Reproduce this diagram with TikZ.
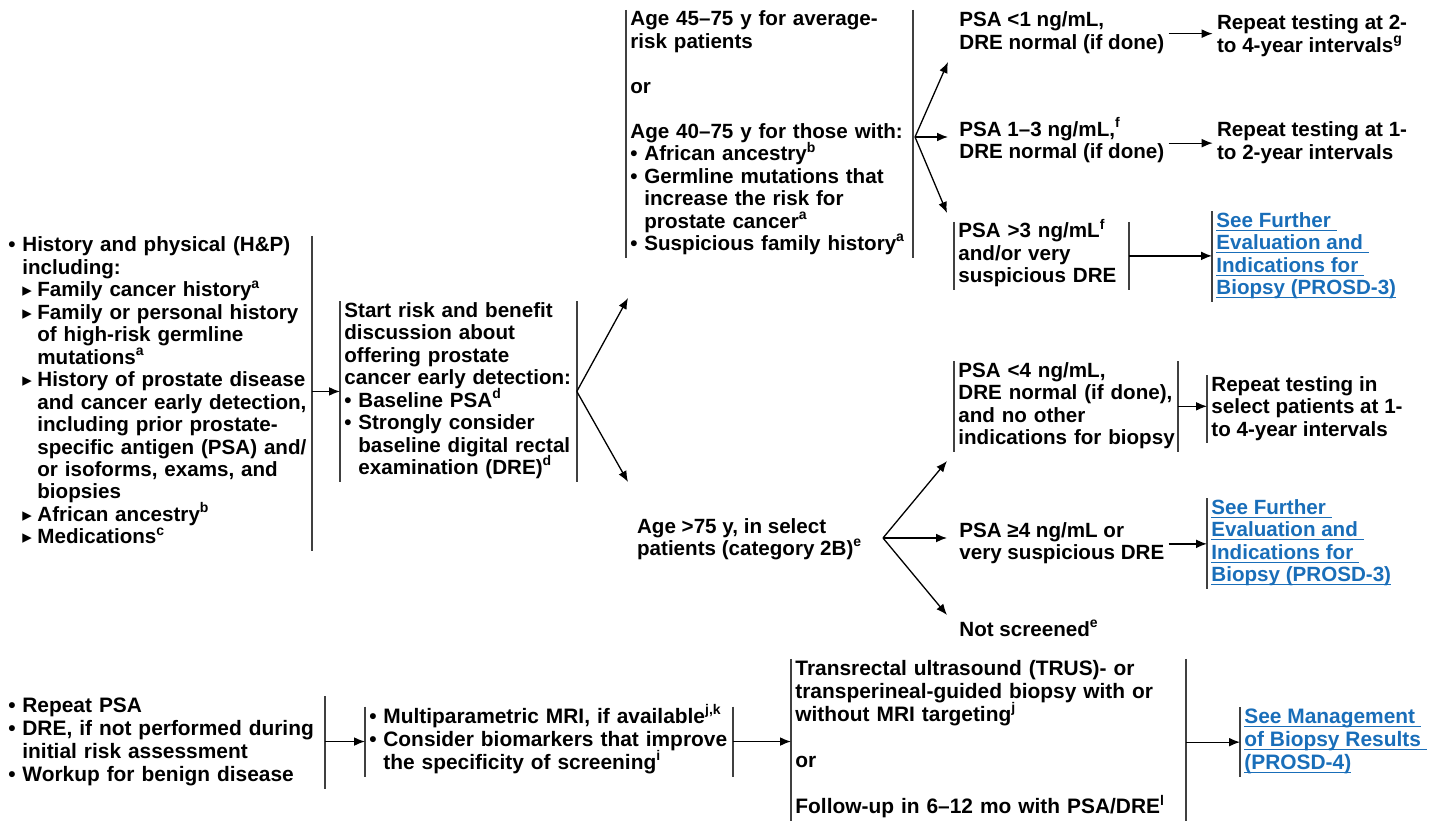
\documentclass[tikz,border=0pt]{standalone}
\usepackage{fontspec}
\setmainfont{Liberation Sans}
\newfontfamily\trifont{DejaVu Sans}
\usetikzlibrary{arrows.meta}

\definecolor{linkblue}{RGB}{25,110,185}

\newsavebox{\lnkbox}
\newcommand{\fn}[1]{\smash{\raisebox{0.42em}{\fontsize{7}{7}\selectfont #1}}}
\newcommand{\bult}{\makebox[7pt][l]{•}}
\newcommand{\indt}{\hspace*{7pt}}
\newcommand{\indtt}{\hspace*{14.5pt}}
\newcommand{\tri}{\makebox[7.5pt][l]{\trifont\fontsize{9.5}{9.5}\selectfont ▸}}
\newcommand{\txtrows}[1]{\begin{tabular}{@{}l@{}}#1\end{tabular}}
\newcommand{\lnk}[1]{\sbox{\lnkbox}{\color{linkblue}#1}{\color{linkblue}\rlap{\rule[-1.6pt]{\wd\lnkbox}{0.5pt}}\usebox{\lnkbox}}}

\begin{document}
\begin{tikzpicture}[x=0.5pt,y=-0.5pt,
    txt/.style={anchor=north west, inner xsep=2pt, inner ysep=0pt,
      font=\fontsize{10.3}{11.23}\selectfont\bfseries},
    btxt/.style={txt, font=\fontsize{10.45}{11.55}\selectfont\bfseries},
    bar/.style={draw=black!75, line width=0.7pt},
    arr/.style={draw=black, line width=0.65pt, -{Latex[length=5.5pt,width=4.4pt]}}]
\useasboundingbox (0,0) rectangle (1440,824);

% initial assessment
\node[txt, text width=149.5pt] (hp) at (4,235.8) {\txtrows{%
  \bult History and physical (H\&P)\\
  \indt including:\\
  \indt\tri Family cancer history\fn{a}\\
  \indt\tri Family or personal history\\
  \indtt of high-risk germline\\
  \indtt mutations\fn{a}\\
  \indt\tri History of prostate disease\\
  \indtt and cancer early detection,\\
  \indtt including prior prostate-\\
  \indtt specific antigen (PSA) and/\\
  \indtt or isoforms, exams, and\\
  \indtt biopsies\\
  \indt\tri African ancestry\fn{b}\\
  \indt\tri Medications\fn{c}}};

\node[txt, text width=114pt] (disc) at (340,301.2) {\txtrows{%
  Start risk and benefit\\
  discussion about\\
  offering prostate\\
  cancer early detection:\\
  \bult Baseline PSA\fn{d}\\
  \bult Strongly consider\\
  \indt baseline digital rectal\\
  \indt examination (DRE)\fn{d}}};

% age groups
\node[txt, text width=139pt] (agehi) at (626,9.8) {\txtrows{%
  Age 45--75 y for average-\\
  risk patients\\
  \\
  or\\
  \\
  Age 40--75 y for those with:\\
  \bult African ancestry\fn{b}\\
  \bult Germline mutations that\\
  \indt increase the risk for\\
  \indt prostate cancer\fn{a}\\
  \bult Suspicious family history\fn{a}}};

\node[txt] (agelo) at (632.7,517) {\txtrows{%
  Age >75 y, in select\\
  patients (category 2B)\fn{e}}};

% results, average and high risk
\node[txt] (psa1) at (955,10.8) {\txtrows{%
  PSA <1 ng/mL,\\
  DRE normal (if done)}};
\node[txt] (rep24) at (1212.7,13.8) {\txtrows{%
  Repeat testing at 2-\\
  to 4-year intervals\fn{g}}};

\node[txt] (psa13) at (955,120.3) {\txtrows{%
  PSA 1--3 ng/mL,\fn{f}\\
  DRE normal (if done)}};
\node[txt] (rep12) at (1212.7,120.8) {\txtrows{%
  Repeat testing at 1-\\
  to 2-year intervals}};

\node[txt, text width=83pt] (psa3) at (954,221.8) {\txtrows{%
  PSA >3 ng/mL\fn{f}\\
  and/or very\\
  suspicious DRE}};
\node[txt] (fe1) at (1212,211.3) {\txtrows{%
  \lnk{See Further\ }\\
  \lnk{Evaluation and\ }\\
  \lnk{Indications for\ }\\
  \lnk{Biopsy (PROSD-3)}}};

% results, older patients
\node[txt, text width=107.5pt] (psa4) at (954,361) {\txtrows{%
  PSA <4 ng/mL,\\
  DRE normal (if done),\\
  and no other\\
  indications for biopsy}};
\node[txt] (rep14) at (1207,375) {\txtrows{%
  Repeat testing in\\
  select patients at 1-\\
  to 4-year intervals}};

\node[txt] (psa4b) at (955,521) {\txtrows{%
  PSA ≥4 ng/mL or\\
  very suspicious DRE}};
\node[txt] (fe2) at (1207,498.3) {\txtrows{%
  \lnk{See Further\ }\\
  \lnk{Evaluation and\ }\\
  \lnk{Indications for\ }\\
  \lnk{Biopsy (PROSD-3)}}};

\node[txt] (nos) at (955,620.3) {\txtrows{Not screened\fn{e}}};

% further evaluation row
\node[btxt, text width=156pt] (wk) at (4,696.1) {\txtrows{%
  \bult Repeat PSA\\
  \bult DRE, if not performed during\\
  \indt initial risk assessment\\
  \bult Workup for benign disease}};

\node[btxt, text width=179.5pt] (mri) at (365,706.5) {\txtrows{%
  \bult Multiparametric MRI, if available\fn{j,k}\\
  \bult Consider biomarkers that improve\\
  \indt the specificity of screening\fn{i}}};

\node[btxt, text width=193pt] (bx) at (791,658.8) {\txtrows{%
  Transrectal ultrasound (TRUS)- or\\
  transperineal-guided biopsy with or\\
  without MRI targeting\fn{j}\\
  \\
  or\\
  \\
  Follow-up in 6--12 mo with PSA/DRE\fn{l}}};

\node[btxt] (fe3) at (1240,707.1) {\txtrows{%
  \lnk{See Management\ }\\
  \lnk{of Biopsy Results\ }\\
  \lnk{(PROSD-4)}}};

% bars
\draw[bar] (hp.north east) -- (hp.south east);
\draw[bar] (disc.north west) -- (disc.south west) (disc.north east) -- (disc.south east);
\draw[bar] (agehi.north west) -- (agehi.south west) (agehi.north east) -- (agehi.south east);
\draw[bar] (psa3.north west) -- (psa3.south west) (psa3.north east) -- (psa3.south east);
\draw[bar] (fe1.north west) -- (fe1.south west);
\draw[bar] (psa4.north west) -- (psa4.south west) (psa4.north east) -- (psa4.south east);
\draw[bar] (rep14.north west) -- (rep14.south west);
\draw[bar] (fe2.north west) -- (fe2.south west);
\draw[bar] (wk.north east) -- (wk.south east);
\draw[bar] (mri.north west) -- (mri.south west) (mri.north east) -- (mri.south east);
\draw[bar] (bx.north west) -- (bx.south west) (bx.north east) -- (bx.south east);
\draw[bar] (fe3.north west) -- (fe3.south west);

% branch points and arrow ends
\coordinate (up) at (628,298);
\coordinate (dn) at (628,482);
\coordinate (br1) at (915,137);
\coordinate (t1) at (948,62);
\coordinate (t2) at (948,137);
\coordinate (t3) at (947,213);
\coordinate (br2) at (883,538);
\coordinate (t4) at (947,461);
\coordinate (t5) at (947,538);
\coordinate (t6) at (947,615);

\draw[arr] (hp.east |- disc.west) -- (disc.west);
\draw[arr] (disc.east) -- (up);
\draw[arr] (disc.east) -- (dn);
\draw[arr] (br1) -- (t1);
\draw[arr] (br1) -- (t2);
\draw[arr] (br1) -- (t3);
\draw[arr] (psa1.east) -- (psa1.east -| rep24.west);
\draw[arr] (psa13.east) -- (psa13.east -| rep12.west);
\draw[arr] (psa3.east) -- (psa3.east -| fe1.west);
\draw[arr] (br2) -- (t4);
\draw[arr] (br2) -- (t5);
\draw[arr] (br2) -- (t6);
\draw[arr] (psa4.east) -- (psa4.east -| rep14.west);
\draw[arr] (psa4b.east) -- (psa4b.east -| fe2.west);
\draw[arr] (wk.east |- mri.west) -- (mri.west);
\draw[arr] (mri.east) -- (mri.east -| bx.west);
\draw[arr] (bx.east |- fe3.west) -- (fe3.west);
\end{tikzpicture}
\end{document}
